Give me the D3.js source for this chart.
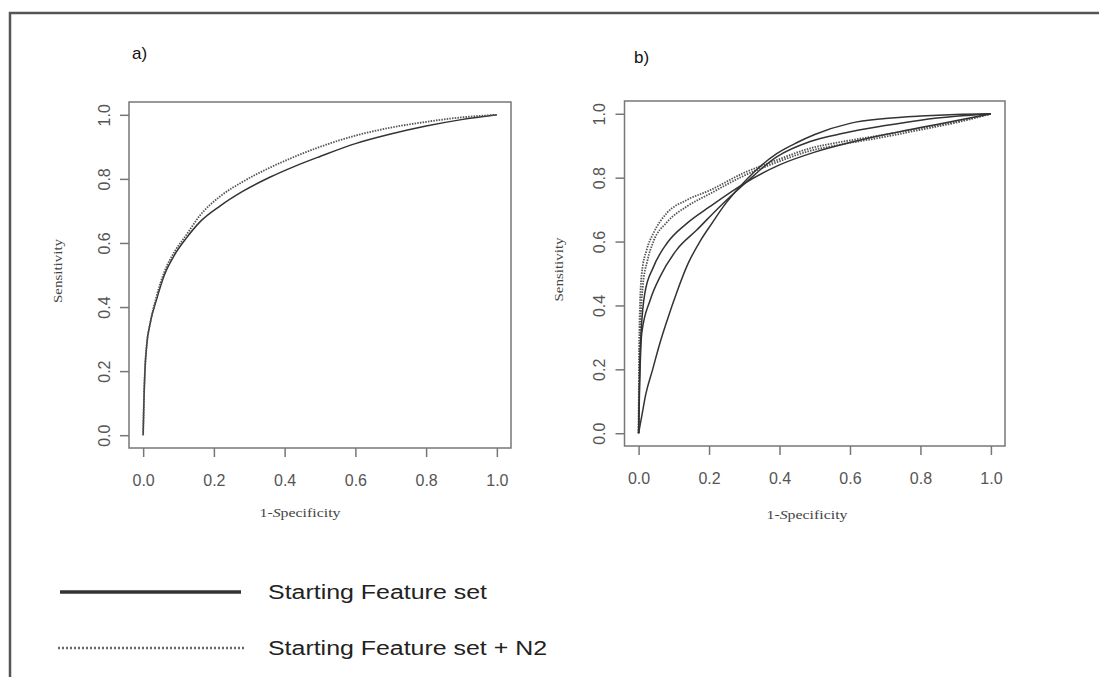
<!DOCTYPE html>
<html>
<head>
<meta charset="utf-8">
<script src="https://cdn.jsdelivr.net/npm/d3@7"></script>
<style>
  body { margin: 0; background: #fff; }
  svg { display: block; }
</style>
</head>
<body>
<div id="chart"></div>
<script>
var width = 1099;
var height = 677;

// ---- data ----
var tickVals = [0, 0.2, 0.4, 0.6, 0.8, 1.0];

// panel a
var fprA = [0, 0.002, 0.005, 0.01, 0.02, 0.037, 0.06, 0.09, 0.122, 0.16, 0.217, 0.28, 0.358, 0.43, 0.5, 0.6, 0.7, 0.8, 0.9, 1];
var tprA_start = [0, 0.1, 0.2, 0.28, 0.35, 0.42, 0.5, 0.565, 0.615, 0.665, 0.715, 0.76, 0.805, 0.84, 0.87, 0.91, 0.94, 0.965, 0.985, 1];
var tprA_n2 = [0, 0.1, 0.2, 0.28, 0.35, 0.43, 0.51, 0.575, 0.625, 0.685, 0.745, 0.79, 0.835, 0.87, 0.9, 0.935, 0.96, 0.978, 0.992, 1];

// panel b, solid curves
var fprB_s1 = [0, 0.003, 0.008, 0.018, 0.042, 0.08, 0.137, 0.203, 0.297, 0.4, 0.5, 0.6, 0.7, 0.8, 0.9, 1];
var tprB_s1 = [0, 0.2, 0.33, 0.44, 0.52, 0.594, 0.657, 0.71, 0.78, 0.84, 0.88, 0.91, 0.935, 0.957, 0.978, 1];
var fprB_s2 = [0, 0.003, 0.009, 0.033, 0.061, 0.108, 0.165, 0.231, 0.3, 0.392, 0.487, 0.581, 0.7, 0.8, 0.9, 1];
var tprB_s2 = [0, 0.15, 0.313, 0.417, 0.49, 0.574, 0.636, 0.71, 0.78, 0.865, 0.913, 0.939, 0.963, 0.98, 0.992, 1];
var fprB_s3 = [0, 0.01, 0.02, 0.04, 0.06, 0.08, 0.108, 0.14, 0.174, 0.21, 0.241, 0.288, 0.33, 0.392, 0.45, 0.5, 0.6, 0.7, 0.8, 0.9, 1];
var tprB_s3 = [0, 0.06, 0.12, 0.2, 0.28, 0.35, 0.44, 0.53, 0.6, 0.66, 0.71, 0.772, 0.82, 0.875, 0.91, 0.935, 0.97, 0.985, 0.993, 0.998, 1];

// panel b, dotted curves
var fprB_d1 = [0, 0.001, 0.003, 0.009, 0.023, 0.042, 0.08, 0.137, 0.203, 0.297, 0.392, 0.487, 0.581, 0.7, 0.8, 0.9, 1];
var tprB_d1 = [0, 0.2, 0.365, 0.5, 0.574, 0.626, 0.689, 0.73, 0.761, 0.814, 0.855, 0.892, 0.913, 0.935, 0.955, 0.975, 1];
var fprB_d2 = [0, 0.002, 0.005, 0.012, 0.025, 0.042, 0.08, 0.137, 0.203, 0.297, 0.392, 0.487, 0.581, 0.7, 0.8, 0.9, 1];
var tprB_d2 = [0, 0.2, 0.33, 0.46, 0.54, 0.6, 0.66, 0.71, 0.75, 0.805, 0.848, 0.884, 0.905, 0.928, 0.95, 0.972, 1];

var legendLabels = ["Starting Feature set", "Starting Feature set + N2"];

function zip(xs, ys) {
  return xs.map(function(x, i) { return [x, ys[i]]; });
}

var svg = d3.select("#chart")
    .append("svg")
    .attr("width", width)
    .attr("height", height);

// outer frame (only top and left edges show)
svg.append("path")
    .attr("d", "M10," + (height + 10) + "V13H" + (width + 10))
    .attr("fill", "none")
    .attr("stroke", "#555")
    .attr("stroke-width", 2.5);

var panels = [
  { tag: "a)", tagX: 132, tagY: 59,
    box: [129, 511, 448, 102],
    yLabX: 62, xLabX: 300, xLabY: 517,
    curves: [
      { d: zip(fprA, tprA_start), dotted: false },
      { d: zip(fprA, tprA_n2), dotted: true }
    ] },
  { tag: "b)", tagX: 634, tagY: 63,
    box: [624.5, 1005, 446, 101],
    yLabX: 563, xLabX: 807, xLabY: 519,
    curves: [
      { d: zip(fprB_d1, tprB_d1), dotted: true },
      { d: zip(fprB_d2, tprB_d2), dotted: true },
      { d: zip(fprB_s1, tprB_s1), dotted: false },
      { d: zip(fprB_s2, tprB_s2), dotted: false },
      { d: zip(fprB_s3, tprB_s3), dotted: false }
    ] }
];

panels.forEach(function(p) {
  var x = d3.scaleLinear().domain([-0.04, 1.04]).range([p.box[0], p.box[1]]);
  var y = d3.scaleLinear().domain([-0.04, 1.04]).range([p.box[2], p.box[3]]);

  var line = d3.line()
      .x(function(d) { return x(d[0]); })
      .y(function(d) { return y(d[1]); })
      .curve(d3.curveMonotoneX);

  p.curves.forEach(function(c) {
    svg.append("path")
        .datum(c.d)
        .attr("d", line)
        .attr("fill", "none")
        .attr("stroke", c.dotted ? "#555" : "#333")
        .attr("stroke-width", c.dotted ? 1.8 : 1.5)
        .attr("stroke-dasharray", c.dotted ? "1.5,1.2" : null);
  });

  // box
  svg.append("rect")
      .attr("x", p.box[0])
      .attr("y", p.box[3])
      .attr("width", p.box[1] - p.box[0])
      .attr("height", p.box[2] - p.box[3])
      .attr("fill", "none")
      .attr("stroke", "#777")
      .attr("stroke-width", 1.5);

  var xAxis = svg.append("g")
      .attr("transform", "translate(0," + p.box[2] + ")")
      .call(d3.axisBottom(x).tickValues(tickVals).tickFormat(d3.format(".1f")).tickSize(9).tickSizeOuter(0));
  xAxis.select(".domain").remove();
  xAxis.selectAll("line").attr("stroke", "#777").attr("stroke-width", 1.5);
  xAxis.selectAll("text")
      .attr("y", 38).attr("dy", 0)
      .attr("fill", "#555")
      .style("font", "16px 'Liberation Sans', Arial, sans-serif");

  var yAxis = svg.append("g")
      .attr("transform", "translate(" + p.box[0] + ",0)")
      .call(d3.axisLeft(y).tickValues(tickVals).tickFormat(d3.format(".1f")).tickSize(9).tickSizeOuter(0));
  yAxis.select(".domain").remove();
  yAxis.selectAll("line").attr("stroke", "#777").attr("stroke-width", 1.5);
  yAxis.selectAll("text")
      .attr("x", 0).attr("y", -19.5).attr("dy", 0)
      .attr("text-anchor", "middle")
      .attr("transform", "rotate(-90)")
      .attr("fill", "#555")
      .style("font", "16px 'Liberation Sans', Arial, sans-serif");

  svg.append("text")
      .attr("x", p.tagX)
      .attr("y", p.tagY)
      .attr("fill", "#111")
      .style("font", "17px 'Liberation Sans', Arial, sans-serif")
      .text(p.tag);

  var midY = (p.box[2] + p.box[3]) / 2;
  svg.append("text")
      .attr("transform", "translate(" + p.yLabX + "," + (midY - 4) + ") rotate(-90)")
      .attr("text-anchor", "middle")
      .attr("fill", "#444")
      .attr("textLength", 64)
      .attr("lengthAdjust", "spacingAndGlyphs")
      .style("font", "12px 'Liberation Serif', 'Times New Roman', serif")
      .text("Sensitivity");

  var xt = svg.append("text")
      .attr("x", p.xLabX)
      .attr("y", p.xLabY)
      .attr("text-anchor", "middle")
      .attr("fill", "#444")
      .attr("textLength", 81)
      .attr("lengthAdjust", "spacingAndGlyphs")
      .style("font", "12px 'Liberation Serif', 'Times New Roman', serif");
  xt.append("tspan").text("1-");
  xt.append("tspan").style("font-style", "italic").text("S");
  xt.append("tspan").text("pecificity");
});

// legend
var legend = svg.append("g");
legendLabels.forEach(function(lab, i) {
  var ly = 592 + i * 56;
  legend.append("line")
      .attr("x1", i ? 58 : 60).attr("x2", i ? 245 : 241)
      .attr("y1", ly).attr("y2", ly)
      .attr("stroke", i ? "#666" : "#333")
      .attr("stroke-width", i ? 2.5 : 3.5)
      .attr("stroke-dasharray", i ? "2,2" : null);
  legend.append("text")
      .attr("x", 268)
      .attr("y", ly + 7)
      .attr("fill", "#222")
      .attr("textLength", i ? 279 : 219)
      .attr("lengthAdjust", "spacingAndGlyphs")
      .style("font", "20px 'Liberation Sans', Arial, sans-serif")
      .text(lab);
});
</script>
</body>
</html>
